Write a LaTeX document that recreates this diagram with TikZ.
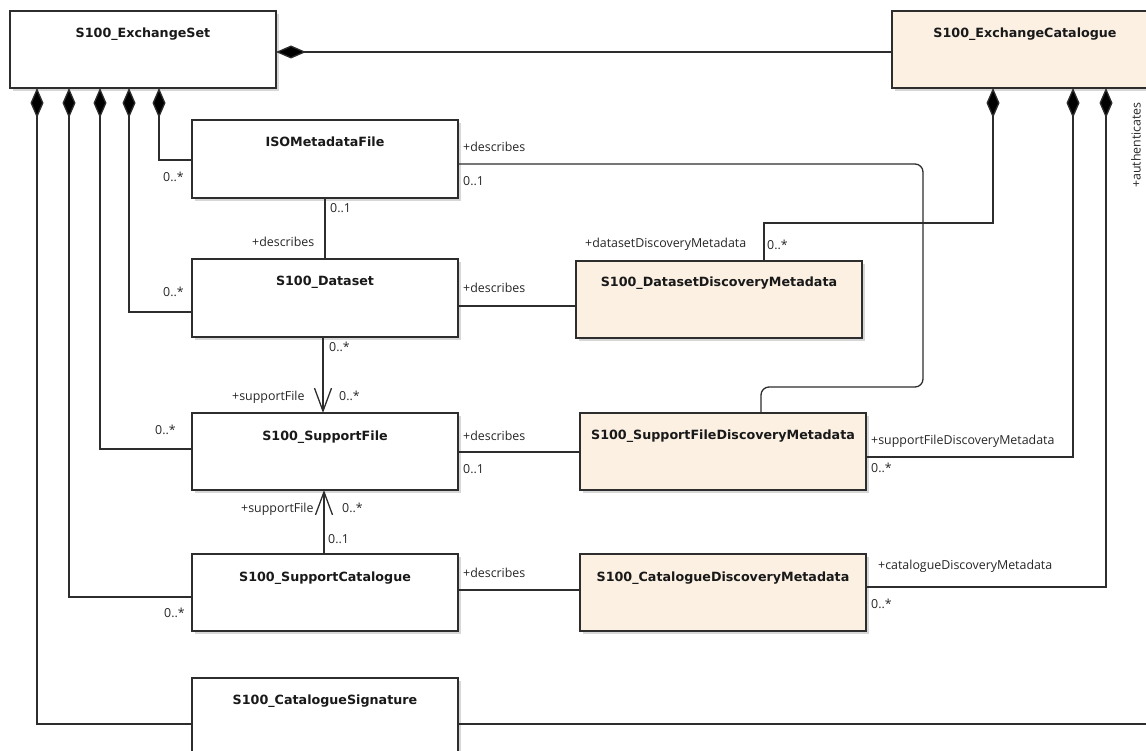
\documentclass[tikz,border=0pt]{standalone}
\usepackage{fontspec}
\setmainfont{Open Sans}
\newfontfamily\titlefont{DejaVu Sans}
\usetikzlibrary{arrows.meta,shadows}
\definecolor{linec}{RGB}{45,45,45}
\definecolor{beige}{RGB}{251,240,226}
\begin{document}
\begin{tikzpicture}[x=1pt,y=-1pt,
  box/.style={draw=linec, line width=1.4pt, fill=white, inner sep=0pt, outer sep=0pt,
    anchor=north west, minimum width=266pt, minimum height=77pt,
    drop shadow={shadow xshift=3pt, shadow yshift=-3pt, fill=black!35, opacity=0.45}},
  metabox/.style={box, fill=beige, minimum width=286pt},
  title/.style={font=\titlefont\bfseries\fontsize{12.7}{14}\selectfont, inner sep=0pt, anchor=base, text=black!90},
  lab/.style={font=\fontsize{12.4}{14}\selectfont, inner sep=0pt, anchor=base west, text=black!85},
  conn/.style={draw=linec, line width=1.3pt},
  comp/.style={conn, {Diamond[length=30pt,width=13pt,fill=black]}-},
  nav/.style={conn, -{Straight Barb[length=23pt,width=17pt,line width=1.3pt]}},
]
\useasboundingbox (0,0) rectangle (1146,751);
\clip (0,0) rectangle (1146,751);

% class boxes
\node[box] (es) at (10,11) {};
\node[box, fill=beige] (ec) at (892,11) {};
\node[box, minimum height=78pt] (iso) at (192,120) {};
\node[box, minimum height=78pt] (ds) at (192,259) {};
\node[box] (sf) at (192,413) {};
\node[box] (sc) at (192,554) {};
\node[box, minimum height=90pt] (sig) at (192,678) {};
\node[metabox] (ddm) at (576,261) {};
\node[metabox] (sfdm) at (580,413) {};
\node[metabox] (cdm) at (580,554) {};

% titles
\node[title] (tes) at ([yshift=-27pt]es.north) {S100\_ExchangeSet};
\node[title] (tec) at ([yshift=-27pt]ec.north) {S100\_ExchangeCatalogue};
\node[title] (tiso) at ([yshift=-27pt]iso.north) {ISOMetadataFile};
\node[title] (tds) at ([yshift=-27pt]ds.north) {S100\_Dataset};
\node[title] (tsf) at ([yshift=-27pt]sf.north) {S100\_SupportFile};
\node[title] (tsc) at ([yshift=-27pt]sc.north) {S100\_SupportCatalogue};
\node[title] (tsig) at ([yshift=-26pt]sig.north) {S100\_CatalogueSignature};
\node[title] (tddm) at ([yshift=-26pt]ddm.north) {S100\_DatasetDiscoveryMetadata};
\node[title] (tsfdm) at ([yshift=-26pt]sfdm.north) {S100\_SupportFileDiscoveryMetadata};
\node[title] (tcdm) at ([yshift=-27pt]cdm.north) {S100\_CatalogueDiscoveryMetadata};

% compositions from ExchangeSet
\draw[comp] ([yshift=-2.5pt]es.east) -- ([yshift=-2.5pt]es.east -| ec.west);
\draw[comp] ([xshift=149pt]es.south west) |- ([yshift=-1pt]iso.west);
\draw[comp] ([xshift=119pt]es.south west) |- ([yshift=-14pt]ds.west);
\draw[comp] ([xshift=90pt]es.south west) |- ([yshift=2.5pt]sf.west);
\draw[comp] ([xshift=59pt]es.south west) |- ([yshift=-4.5pt]sc.west);
\draw[comp] ([xshift=27pt]es.south west) |- ([yshift=-46pt]sig.north west);

% compositions from ExchangeCatalogue
\draw[comp] ([xshift=101pt]ec.south west) -- ++(0,135) -| ([xshift=188pt]ddm.north west);
\draw[comp] ([xshift=181pt]ec.south west) |- ([yshift=-5.5pt]sfdm.east);
\draw[comp] ([xshift=214pt]ec.south west) |- ([yshift=5.5pt]cdm.east);

% associations
\draw[conn] (iso.south) -- (ds.north);
\draw[conn, rounded corners=8pt] ([yshift=-5pt]iso.east) -- ++(465,0) |- ([xshift=181pt,yshift=26pt]sfdm.north west) -- ([xshift=181pt]sfdm.north west);
\draw[conn] ([yshift=-8pt]ds.east) -- ([yshift=-8pt]ds.east -| ddm.west);
\draw[conn] ([yshift=-0.5pt]sf.east) -- ([yshift=-0.5pt]sf.east -| sfdm.west);
\draw[conn] ([yshift=2.5pt]sc.east) -- ([yshift=2.5pt]sc.east -| cdm.west);
\draw[nav] ([xshift=-2pt]ds.south) -- ([xshift=-2pt]sf.north);
\draw[nav] ([xshift=-1pt]sc.north) -- ([xshift=-1pt]sf.south);
\coordinate (sigend) at (1150,724);
\draw[conn] ([yshift=-46pt]sig.north east) -- (sigend);

% labels
\node[lab] (l1) at (163,182) {0..*};
\node[lab] (l2) at (463,152) {+describes};
\node[lab] (l3) at (463,186) {0..1};
\node[lab] (l4) at (330,213) {0..1};
\node[lab] (l5) at (252,247) {+describes};
\node[lab] (l6) at (163,297) {0..*};
\node[lab] (l7) at (463,293) {+describes};
\node[lab] (l8) at (329,352) {0..*};
\node[lab] (l9) at (232,400) {+supportFile};
\node[lab] (l10) at (339,400) {0..*};
\node[lab] (l11) at (155,434) {0..*};
\node[lab] (l12) at (463,440) {+describes};
\node[lab] (l13) at (463,473) {0..1};
\node[lab] (l14) at (241,512) {+supportFile};
\node[lab] (l15) at (342,512) {0..*};
\node[lab] (l16) at (328,543) {0..1};
\node[lab] (l17) at (463,577) {+describes};
\node[lab] (l18) at (164,617) {0..*};
\node[lab] (l19) at (585,248) {+datasetDiscoveryMetadata};
\node[lab] (l20) at (767,250) {0..*};
\node[lab] (l21) at (871,444) {+supportFileDiscoveryMetadata};
\node[lab] (l22) at (871,472) {0..*};
\node[lab] (l23) at (878,569) {+catalogueDiscoveryMetadata};
\node[lab] (l24) at (871,608) {0..*};
\node[lab, anchor=center, rotate=90] (l25) at (1136,145) {+authenticates};
\end{tikzpicture}
\end{document}
